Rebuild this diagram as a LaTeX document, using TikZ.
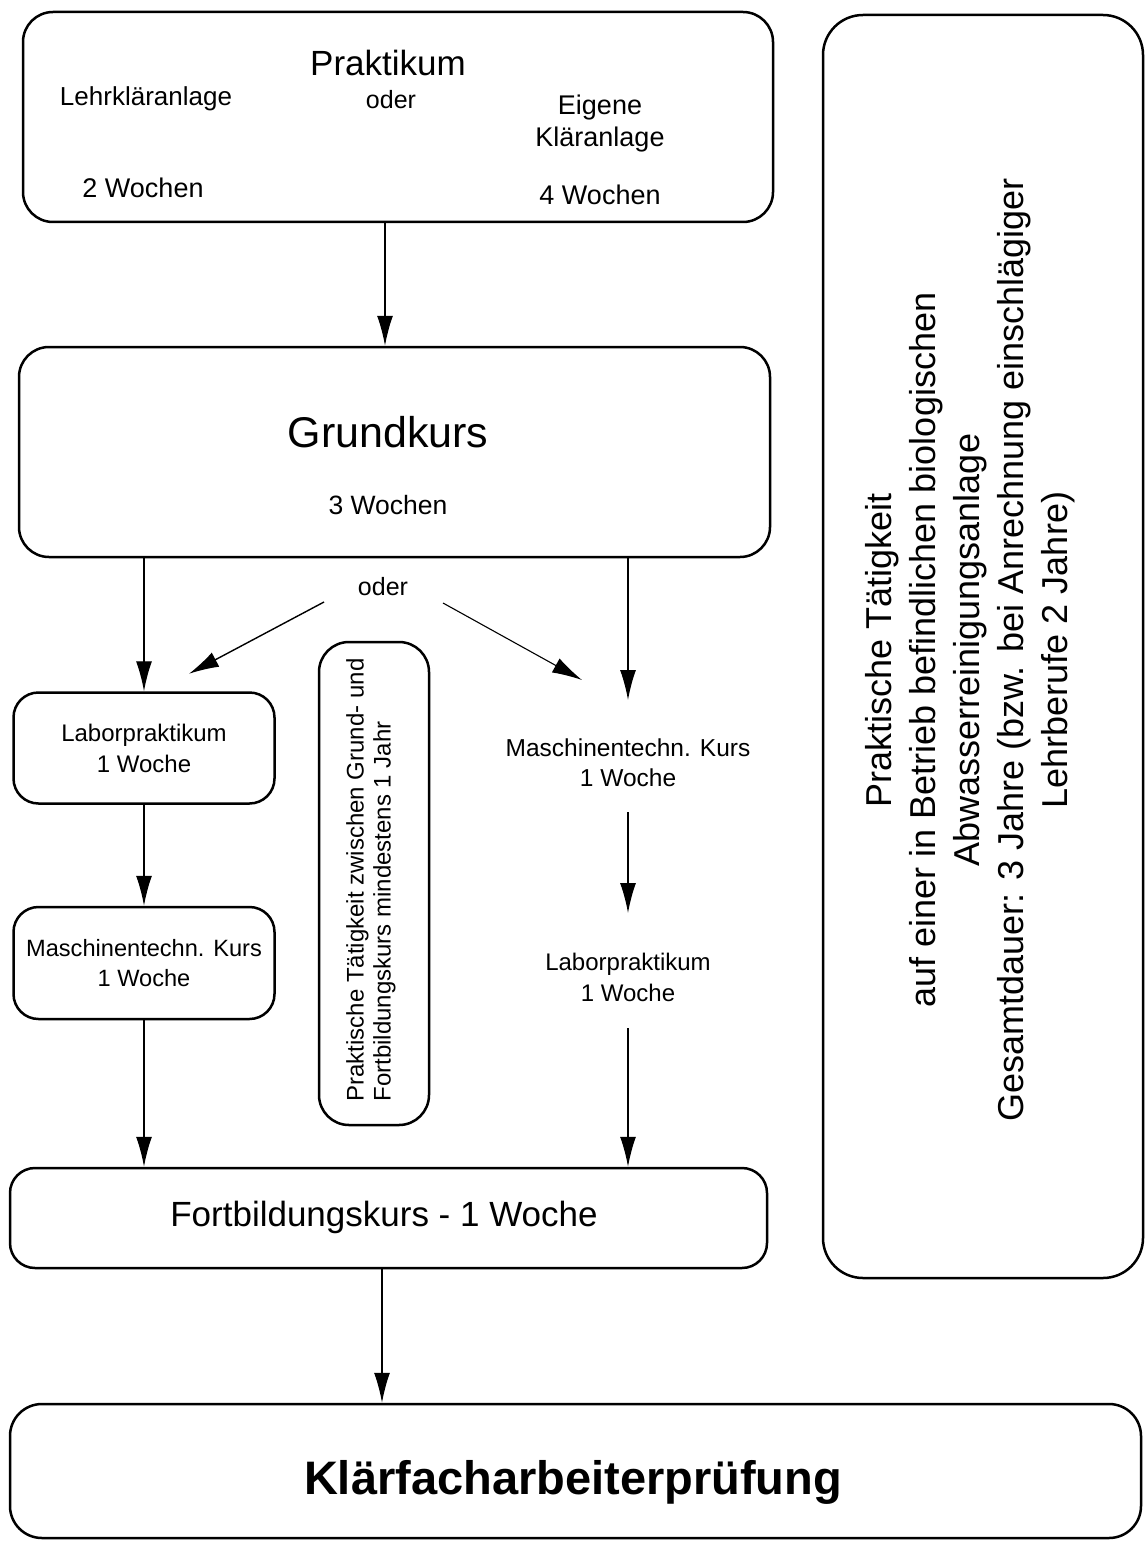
\documentclass[tikz,border=0pt]{standalone}
\usepackage{fontspec}
\setmainfont{Liberation Sans}
\usetikzlibrary{arrows.meta}
\newcommand\myfs[2]{\fontsize{#1}{#2}\selectfont}
\begin{document}
\begin{tikzpicture}[x=1pt,y=-1pt,
  box/.style={draw, line width=2.5pt, rounded corners=#1, inner sep=0pt, align=center},
  box/.default=28pt,
  txt/.style={inner sep=0pt, align=center},
  arr/.style={line width=1.4pt, -{Latex[length=30pt,width=16pt]}}]
\fill[white] (0,0) rectangle (1146,1546);
\useasboundingbox (0,0) rectangle (1146,1546);

% Praktikum
\node[box=30pt, minimum width=750pt, minimum height=210pt] (pk) at (398,117) {};
\node[txt, font=\myfs{35}{42}] (pkT) at (388,63) {Praktikum};
\node[txt, font=\myfs{26}{31}] (lehr) at (146,99) {Lehrkläranlage};
\node[txt, font=\myfs{25}{30}] (oder1) at (391,100) {oder};
\node[txt, font=\myfs{27}{32}] (eig) at (600,124) {Eigene\\Kläranlage};
\node[txt, font=\myfs{27}{32}] (w2) at (143,188) {2 Wochen};
\node[txt, font=\myfs{27}{32}] (w4) at (600,195) {4 Wochen};

% Grundkurs
\node[box=30pt, minimum width=751pt, minimum height=210pt] (gk) at (394.5,452) {};
\node[txt, font=\myfs{43}{50}] (gkT) at (388,432) {Grundkurs};
\node[txt, font=\myfs{26.5}{31}] (gkW) at (388,505) {3 Wochen};

\node[txt, font=\myfs{25}{30}] (oder2) at (383,587) {oder};

% left column
\node[box=25pt, minimum width=261pt, minimum height=111pt, font=\myfs{24}{31}] (lp1) at (144,748) {Laborpraktikum\\1 Woche};
\node[box=25pt, minimum width=261pt, minimum height=112pt, font=\myfs{23.6}{30}] (mk1) at (144,963) {Maschinentechn. Kurs\\1 Woche};

% middle box
\node[box=30pt, minimum width=110pt, minimum height=483pt] (mid) at (374,883.5) {};
\node[inner sep=0pt, align=left, rotate=90, font=\myfs{24}{27}] (midT) at (371,880) {Praktische Tätigkeit zwischen Grund- und\\Fortbildungskurs mindestens 1 Jahr};

% right column
\node[txt, font=\myfs{24.5}{30}] (mk2) at (628,763) {Maschinentechn. Kurs\\1 Woche};
\node[txt, font=\myfs{24}{31}] (lp2) at (628,977) {Laborpraktikum\\1 Woche};

% Fortbildungskurs
\node[box=25pt, minimum width=757pt, minimum height=100pt] (fb) at (388.5,1218) {};
\node[txt, font=\myfs{35}{42}] (fbT) at (384,1217) {Fortbildungskurs - 1 Woche};

% Klaerfacharbeiterpruefung
\node[box=32pt, minimum width=1131pt, minimum height=134pt] (kf) at (575.5,1471) {};
\node[txt, font=\bfseries\myfs{47}{56}] (kfT) at (573,1482) {Klärfacharbeiterprüfung};

% right box
\node[box=40pt, minimum width=320pt, minimum height=1263pt] (rb) at (983,646.5) {};
\node[txt, rotate=90, font=\myfs{36}{44}] (rbT) at (970,650) {Praktische Tätigkeit\\auf einer in Betrieb befindlichen biologischen\\Abwasserreinigungsanlage\\Gesamtdauer: 3 Jahre (bzw. bei Anrechnung einschlägiger\\Lehrberufe 2 Jahre)};

% arrows
\draw[arr] ([xshift=-13pt]pk.south) -- ([xshift=-9.5pt]gk.north);
\draw[arr] (gk.south -| lp1.north) -- (lp1.north);
\draw[arr] (gk.south -| mk2.north) -- ([yshift=63pt]mk2.center);
\draw[arr] ([xshift=-59pt,yshift=-15pt]oder2.center) -- ([xshift=45pt,yshift=17.5pt]lp1.north);
\draw[arr, line width=1.1pt] ([xshift=60pt,yshift=-16pt]oder2.center) -- ([xshift=-46pt,yshift=83pt]mk2.center);
\draw[arr] (lp1.south) -- (mk1.north);
\draw[arr] (mk1.south) -- (mk1.south |- fb.north);
\draw[arr] ([yshift=-49pt]mk2.center) -- ([yshift=64pt]lp2.center);
\draw[arr] ([yshift=-51pt]lp2.center) -- (lp2.center |- fb.north);
\draw[arr] ([xshift=-6.5pt]fb.south) -- ([xshift=-6.5pt]fb.south |- kf.north);
\end{tikzpicture}
\end{document}
